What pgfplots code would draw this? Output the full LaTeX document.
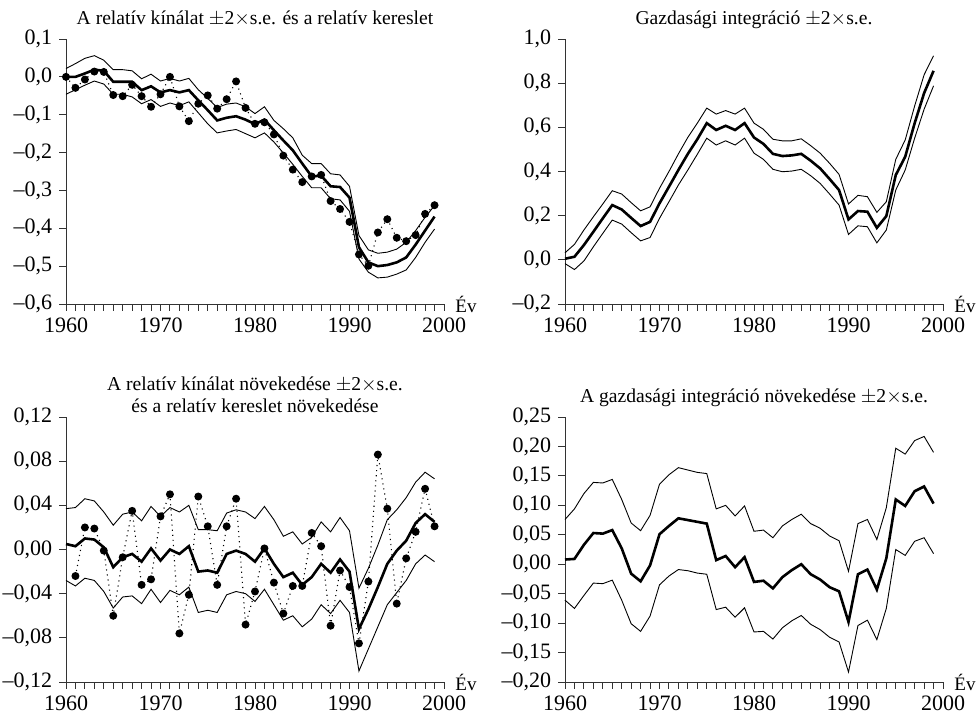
\documentclass[border=0pt]{standalone}
\usepackage{fontspec}
\setmainfont{Liberation Serif}
\usepackage{pgfplots}
\pgfplotsset{compat=1.18}
\usepackage{pgfplotstable}

% panel 1: relative supply (lo/mid/hi) and relative demand (dem)
\pgfplotstableread{
year lo mid hi dem
1960 -0.046 0.000 0.022 0.000
1961 -0.034 0.000 0.035 -0.029
1962 -0.022 0.009 0.049 -0.007
1963 -0.011 0.019 0.056 0.014
1964 -0.019 0.016 0.044 0.013
1965 -0.046 -0.013 0.019 -0.048
1966 -0.046 -0.013 0.019 -0.051
1967 -0.053 -0.013 0.016 -0.021
1968 -0.071 -0.035 -0.005 -0.051
1969 -0.060 -0.025 0.007 -0.079
1970 -0.078 -0.041 -0.011 -0.046
1971 -0.069 -0.035 -0.004 0.000
1972 -0.076 -0.041 -0.011 -0.078
1973 -0.066 -0.035 -0.004 -0.117
1974 -0.095 -0.062 -0.034 -0.071
1975 -0.124 -0.088 -0.057 -0.049
1976 -0.148 -0.115 -0.081 -0.084
1977 -0.143 -0.108 -0.072 -0.059
1978 -0.139 -0.104 -0.069 -0.012
1979 -0.150 -0.113 -0.079 -0.082
1980 -0.161 -0.125 -0.097 -0.124
1981 -0.148 -0.113 -0.079 -0.120
1982 -0.172 -0.141 -0.115 -0.152
1983 -0.201 -0.168 -0.137 -0.208
1984 -0.231 -0.194 -0.161 -0.245
1985 -0.263 -0.229 -0.207 -0.278
1986 -0.293 -0.263 -0.229 -0.263
1987 -0.293 -0.261 -0.229 -0.259
1988 -0.322 -0.289 -0.256 -0.328
1989 -0.325 -0.291 -0.259 -0.349
1990 -0.355 -0.319 -0.289 -0.383
1991 -0.481 -0.450 -0.419 -0.469
1992 -0.516 -0.490 -0.457 -0.499
1993 -0.531 -0.500 -0.466 -0.411
1994 -0.529 -0.497 -0.463 -0.376
1995 -0.521 -0.490 -0.455 -0.425
1996 -0.510 -0.477 -0.437 -0.434
1997 -0.477 -0.443 -0.406 -0.418
1998 -0.437 -0.406 -0.371 -0.362
1999 -0.402 -0.369 -0.340 -0.339
}\tabA

% panel 2: economic integration
\pgfplotstableread{
year lo mid hi
1960 -0.017 0.005 0.032
1961 -0.044 0.014 0.070
1962 -0.005 0.067 0.135
1963 0.059 0.127 0.195
1964 0.120 0.188 0.253
1965 0.180 0.248 0.313
1966 0.162 0.228 0.298
1967 0.123 0.190 0.259
1968 0.086 0.153 0.222
1969 0.101 0.172 0.240
1970 0.188 0.256 0.324
1971 0.263 0.331 0.400
1972 0.339 0.407 0.480
1973 0.407 0.480 0.555
1974 0.478 0.546 0.619
1975 0.551 0.619 0.687
1976 0.520 0.588 0.660
1977 0.539 0.607 0.676
1978 0.520 0.588 0.660
1979 0.551 0.619 0.687
1980 0.483 0.554 0.619
1981 0.455 0.525 0.591
1982 0.410 0.480 0.546
1983 0.399 0.470 0.539
1984 0.402 0.473 0.539
1985 0.410 0.480 0.548
1986 0.381 0.449 0.517
1987 0.346 0.414 0.483
1988 0.298 0.366 0.437
1989 0.248 0.316 0.387
1990 0.115 0.183 0.253
1991 0.154 0.221 0.292
1992 0.150 0.218 0.286
1993 0.077 0.145 0.215
1994 0.135 0.198 0.263
1995 0.316 0.384 0.455
1996 0.407 0.467 0.543
1997 0.551 0.619 0.697
1998 0.682 0.755 0.838
1999 0.788 0.856 0.924
}\tabB

% panel 3: growth of relative supply and demand
\pgfplotstableread{
year lo mid hi dem
1960 -0.028 0.005 0.037 nan
1961 -0.033 0.003 0.038 -0.024
1962 -0.026 0.010 0.046 0.020
1963 -0.028 0.009 0.044 0.019
1964 -0.038 0.002 0.034 -0.001
1965 -0.053 -0.016 0.022 -0.060
1966 -0.043 -0.007 0.032 -0.007
1967 -0.042 -0.004 0.034 0.035
1968 -0.049 -0.011 0.026 -0.032
1969 -0.036 0.001 0.039 -0.027
1970 -0.048 -0.010 0.030 0.030
1971 -0.037 0.000 0.038 0.050
1972 -0.041 -0.004 0.034 -0.076
1973 -0.034 0.003 0.040 -0.041
1974 -0.057 -0.020 0.018 0.048
1975 -0.055 -0.019 0.018 0.021
1976 -0.057 -0.021 0.017 -0.032
1977 -0.041 -0.004 0.033 0.021
1978 -0.038 -0.001 0.036 0.046
1979 -0.040 -0.004 0.034 -0.068
1980 -0.047 -0.011 0.028 -0.038
1981 -0.036 0.001 0.039 0.001
1982 -0.050 -0.013 0.027 -0.030
1983 -0.064 -0.025 0.012 -0.058
1984 -0.060 -0.021 0.016 -0.033
1985 -0.070 -0.032 0.005 -0.033
1986 -0.063 -0.025 0.011 0.015
1987 -0.050 -0.013 0.025 0.003
1988 -0.058 -0.021 0.016 -0.069
1989 -0.046 -0.009 0.029 -0.019
1990 -0.057 -0.020 0.017 -0.034
1991 -0.110 -0.072 -0.035 -0.085
1992 -0.090 -0.054 -0.017 -0.029
1993 -0.070 -0.034 0.004 0.086
1994 -0.050 -0.013 0.027 0.037
1995 -0.039 -0.001 0.036 -0.049
1996 -0.028 0.008 0.047 -0.008
1997 -0.013 0.024 0.061 0.016
1998 -0.005 0.032 0.070 0.055
1999 -0.011 0.025 0.064 0.021
}\tabC

% panel 4: growth of economic integration
\pgfplotstableread{
year lo mid hi
1960 -0.061 0.008 0.076
1961 -0.075 0.009 0.094
1962 -0.053 0.033 0.120
1963 -0.032 0.053 0.139
1964 -0.033 0.052 0.138
1965 -0.027 0.058 0.144
1966 -0.061 0.027 0.110
1967 -0.101 -0.016 0.070
1968 -0.114 -0.029 0.057
1969 -0.088 -0.002 0.083
1970 -0.035 0.051 0.136
1971 -0.020 0.065 0.152
1972 -0.009 0.078 0.164
1973 -0.011 0.075 0.160
1974 -0.015 0.072 0.156
1975 -0.017 0.069 0.154
1976 -0.077 0.007 0.094
1977 -0.073 0.014 0.100
1978 -0.090 -0.005 0.082
1979 -0.074 0.012 0.099
1980 -0.115 -0.030 0.056
1981 -0.114 -0.028 0.058
1982 -0.127 -0.041 0.045
1983 -0.108 -0.022 0.065
1984 -0.096 -0.010 0.076
1985 -0.087 0.000 0.085
1986 -0.102 -0.017 0.069
1987 -0.111 -0.026 0.061
1988 -0.124 -0.039 0.048
1989 -0.132 -0.046 0.040
1990 -0.183 -0.098 -0.012
1991 -0.104 -0.017 0.069
1992 -0.095 -0.009 0.076
1993 -0.128 -0.043 0.042
1994 -0.075 0.010 0.096
1995 0.025 0.110 0.197
1996 0.015 0.099 0.187
1997 0.039 0.124 0.210
1998 0.045 0.132 0.217
1999 0.018 0.103 0.190
}\tabD

\newcommand{\pmse}{$\pm$2$\times$s.e.}

\pgfplotsset{
 panel/.style={
  scale only axis, width=189pt, height=132.5pt,
  anchor=south west, clip=false,
  axis x line=bottom, axis y line=left,
  axis line style={-, black!80, line width=0.5pt},
  xmin=1960, xmax=2000,
  xtick={1960,1970,1980,1990,2000},
  xticklabels={1960,1970,1980,1990,2000},
  minor x tick num=9,
  tick align=outside,
  major tick length=3.4pt, minor tick length=3.4pt,
  tick style={black!80, line width=0.5pt},
  ticklabel style={font=\fontsize{11}{12}\selectfont},
  x tick label style={inner sep=0.5pt, text depth=0pt, yshift=-3pt},
  xlabel={Év},
  xlabel style={at={(axis description cs:1,0)}, anchor=base west,
   inner sep=1pt, text depth=0pt, xshift=4.5pt, yshift=-4pt,
   font=\fontsize{9.5}{11}\selectfont},
  title style={at={(0.5,1)}, anchor=base, yshift=1.5pt, align=center,
   font=\fontsize{9.8}{11}\selectfont},
 },
 band/.style={black, line width=0.45pt, no marks},
 est/.style={black, line width=1.3pt, no marks},
 dem/.style={black, line width=0.55pt, dotted, mark=*, mark size=1.7pt,
  mark options={solid}},
}

\begin{document}
\begin{tikzpicture}
\useasboundingbox (0,0) rectangle (488.5pt,-356.5pt);

\begin{axis}[panel, at={(33pt,-152pt)},
 ymin=-0.6, ymax=0.1,
 ytick={-0.6,-0.5,-0.4,-0.3,-0.2,-0.1,0,0.1},
 yticklabels={{–0,6},{–0,5},{–0,4},{–0,3},{–0,2},{–0,1},{0,0},{0,1}},
 title={A relatív kínálat \pmse{} és a relatív kereslet}]
\addplot[band] table[x=year,y=lo] {\tabA};
\addplot[band] table[x=year,y=hi] {\tabA};
\addplot[est] table[x=year,y=mid] {\tabA};
\addplot[dem] table[x=year,y=dem] {\tabA};
\end{axis}

\begin{axis}[panel, at={(282.5pt,-152pt)},
 ymin=-0.2, ymax=1.0,
 ytick={-0.2,0,0.2,0.4,0.6,0.8,1.0},
 yticklabels={{–0,2},{0,0},{0,2},{0,4},{0,6},{0,8},{1,0}},
 title={Gazdasági integráció \pmse}]
\addplot[band] table[x=year,y=lo] {\tabB};
\addplot[band] table[x=year,y=hi] {\tabB};
\addplot[est] table[x=year,y=mid] {\tabB};
\end{axis}

\begin{axis}[panel, at={(33pt,-341pt)},
 ymin=-0.12, ymax=0.12,
 ytick={-0.12,-0.08,-0.04,0,0.04,0.08,0.12},
 yticklabels={{–0,12},{–0,08},{–0,04},{0,00},{0,04},{0,08},{0,12}},
 title style={yshift=-5pt},
 title={A relatív kínálat növekedése \pmse\\és a relatív kereslet növekedése}]
\addplot[band] table[x=year,y=lo] {\tabC};
\addplot[band] table[x=year,y=hi] {\tabC};
\addplot[est] table[x=year,y=mid] {\tabC};
\addplot[dem] table[x=year,y=dem] {\tabC};
\end{axis}

\begin{axis}[panel, at={(282.5pt,-341pt)},
 ymin=-0.2, ymax=0.25,
 ytick={-0.2,-0.15,-0.1,-0.05,0,0.05,0.1,0.15,0.2,0.25},
 yticklabels={{–0,20},{–0,15},{–0,10},{–0,05},{0,00},{0,05},{0,10},{0,15},{0,20},{0,25}},
 title={A gazdasági integráció növekedése \pmse}]
\addplot[band] table[x=year,y=lo] {\tabD};
\addplot[band] table[x=year,y=hi] {\tabD};
\addplot[est] table[x=year,y=mid] {\tabD};
\end{axis}
\end{tikzpicture}
\end{document}
